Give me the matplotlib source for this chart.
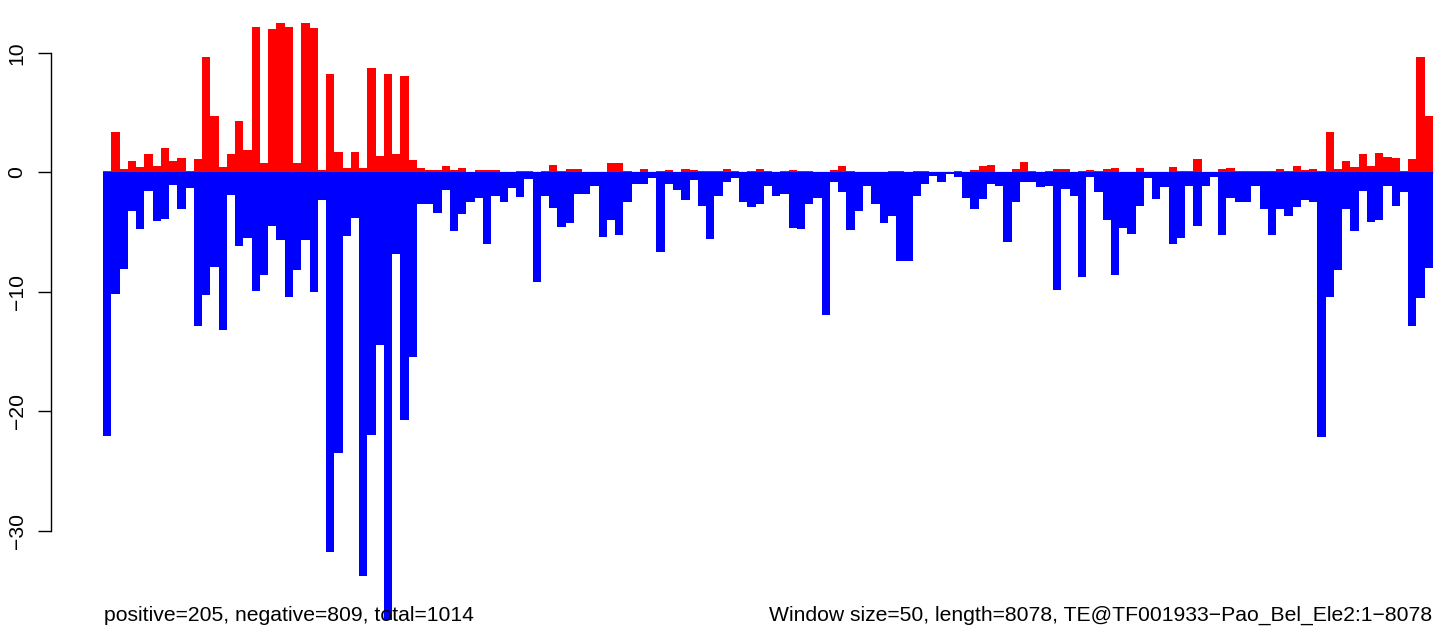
import numpy as np
import matplotlib
matplotlib.use("Agg")
import matplotlib.pyplot as plt

# positive (red) values per 50-bp window
pos = [0.14, 3.4, 0.3, 0.98, 0.47, 1.56, 0.56, 2.06, 0.98, 1.23,
       0.14, 1.14, 9.68, 4.74, 0.47, 1.56, 4.32, 1.9, 12.2, 0.81,
       12.0, 12.5, 12.2, 0.81, 12.5, 12.1, 0.2, 8.26, 1.74, 0.4,
       1.67, 0.4, 8.76, 1.4, 8.26, 1.57, 8.1, 1.07, 0.33, 0.17,
       0.23, 0.5, 0.23, 0.4, 0.07, 0.17, 0.17, 0.17, 0.07, 0.07,
       0.1, 0.13, 0.05, 0.13, 0.64, 0.13, 0.3, 0.3, 0.07, 0.07,
       0.0, 0.8, 0.8, 0.13, 0.0, 0.3, 0.07, 0.13, 0.23, 0.0,
       0.3, 0.23, 0.13, 0.13, 0.13, 0.3, 0.13, 0.07, 0.13, 0.3,
       0.13, 0.07, 0.13, 0.23, 0.13, 0.13, 0.07, 0.0, 0.23, 0.57,
       0.13, 0.07, 0.0, 0.0, 0.07, 0.13, 0.13, 0.0, 0.13, 0.13,
       0.0, 0.0, 0.0, 0.13, 0.0, 0.23, 0.57, 0.64, 0.07, 0.07,
       0.3, 0.9, 0.13, 0.07, 0.13, 0.3, 0.3, 0.07, 0.13, 0.23,
       0.13, 0.3, 0.4, 0.0, 0.0, 0.4, 0.0, 0.0, 0.0, 0.47,
       0.13, 0.13, 1.14, 0.07, 0.07, 0.3, 0.4, 0.13, 0.13, 0.13,
       0.13, 0.13, 0.3, 0.13, 0.57, 0.23, 0.3, 0.13, 3.4, 0.3,
       0.97, 0.47, 1.57, 0.57, 1.64, 1.3, 1.24, 0.13, 1.14, 9.67,
       4.75]

# negative (blue) values per window, as magnitudes
neg = [22.1, 10.2, 8.1, 3.2, 4.7, 1.53, 4.1, 3.88, 1.03, 3.04,
       1.34, 12.9, 10.3, 7.95, 13.2, 1.87, 6.2, 5.5, 9.96, 8.6,
       4.46, 5.7, 10.4, 8.2, 5.7, 10.0, 2.3, 31.8, 23.5, 5.3,
       3.85, 33.8, 22.0, 14.5, 37.5, 6.86, 20.7, 15.5, 2.68, 2.68,
       3.44, 1.44, 4.95, 3.5, 2.44, 2.17, 6.0, 2.0, 2.5, 1.34,
       2.07, 0.57, 9.2, 1.94, 3.0, 4.58, 4.25, 1.84, 1.84, 1.17,
       5.42, 3.95, 5.28, 2.5, 1.0, 1.0, 0.43, 6.7, 1.0, 1.5,
       2.34, 0.6, 2.84, 5.6, 1.94, 0.84, 0.43, 2.44, 2.94, 2.68,
       1.17, 2.0, 1.77, 4.68, 4.78, 2.68, 2.17, 11.97, 0.84, 1.67,
       4.85, 3.24, 1.17, 2.68, 4.28, 3.68, 7.42, 7.42, 2.0, 1.0,
       0.33, 0.84, 0.17, 0.4, 2.17, 3.1, 2.24, 0.94, 1.17, 5.8,
       2.44, 0.77, 0.77, 1.24, 1.17, 9.87, 1.4, 1.94, 8.76, 0.4,
       1.67, 4.0, 8.63, 4.68, 5.18, 2.84, 0.5, 2.24, 1.24, 6.0,
       5.5, 1.17, 4.5, 1.17, 0.4, 5.28, 2.17, 2.5, 2.44, 1.1,
       3.08, 5.28, 3.08, 3.68, 2.94, 2.34, 2.44, 22.2, 10.4, 8.2,
       3.08, 4.95, 1.6, 4.18, 3.95, 1.1, 2.84, 1.67, 12.9, 10.5,
       8.0]

yticks = [-30, -20, -10, 0, 10]
left_note = "positive=205, negative=809, total=1014"
right_note = "Window size=50, length=8078, TE@TF001933\u2212Pao_Bel_Ele2:1\u22128078"

W, H, DPI = 1441, 627, 100
plt.rcParams['font.family'] = ['Liberation Sans', 'DejaVu Sans']

fig = plt.figure(figsize=(W / DPI, H / DPI), dpi=DPI)
ax = fig.add_axes([0, 0, 1, 1])

n = len(pos)
x = np.arange(n)
px_per_bar = 1330.0 / n
px_per_unit = 477.5 / 40.0
x0 = -103.0 / px_per_bar
ax.set_xlim(x0, x0 + W / px_per_bar)
ytop = 172.4 / px_per_unit
ax.set_ylim(ytop - H / px_per_unit, ytop)

ax.hlines(0, 0, n, color='#888888', lw=1.0, zorder=0)
ax.bar(x, pos, width=1.0, align='edge', color='#FF0000', linewidth=0,
       antialiased=False, zorder=2)
ax.bar(x, -np.array(neg), width=1.0, align='edge', color='#0000FF',
       linewidth=0, antialiased=False, zorder=2)

for s in ['top', 'right', 'bottom']:
    ax.spines[s].set_visible(False)
axis_x = (50.7 - 103.0) / px_per_bar
ax.spines['left'].set_position(('data', axis_x))
ax.spines['left'].set_bounds(min(yticks), max(yticks))
ax.spines['left'].set_linewidth(1.0)
ax.set_yticks(yticks)
ax.set_yticklabels([str(t).replace('-', '\u2212') for t in yticks],
                   rotation=90, va='center', fontsize=15.25)
ax.tick_params(axis='y', length=9.4, width=1.0, pad=8)
ax.set_xticks([])

fig.text(104 / W, 1 - 621 / H, left_note, ha='left', va='baseline',
         fontsize=15.25, color='black')
fig.text(1432 / W, 1 - 621 / H, right_note, ha='right', va='baseline',
         fontsize=15.25, color='black')

fig.savefig('out.png', dpi=DPI)
